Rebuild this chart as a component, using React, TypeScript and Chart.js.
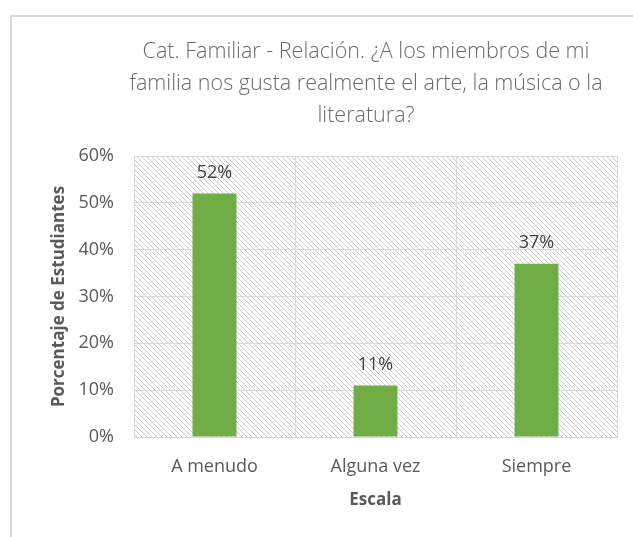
import React, { useEffect, useRef } from "react";
import { Chart, registerables } from "chart.js";

Chart.register(...registerables);

const titleLines = [
  "Cat. Familiar - Relación. ¿A los miembros de mi",
  "familia nos gusta realmente el arte, la música o la",
  "literatura?",
];
const categories = ["A menudo", "Alguna vez", "Siempre"];
const values = [52, 11, 37];
const yTicks = [0, 10, 20, 30, 40, 50, 60];
const xTitle = "Escala";
const yTitle = "Porcentaje de Estudiantes";

const FONT = "'Open Sans', 'Noto Sans', sans-serif";

function makePattern(ctx: CanvasRenderingContext2D) {
  const n = 5;
  const c = document.createElement("canvas");
  c.width = n;
  c.height = n;
  const pc = c.getContext("2d")!;
  const img = pc.createImageData(n, n);
  for (let i = 0; i < n * n; i++) {
    img.data[i * 4] = 255;
    img.data[i * 4 + 1] = 255;
    img.data[i * 4 + 2] = 255;
    img.data[i * 4 + 3] = 255;
  }
  for (let i = 0; i < n; i++) {
    const idx = (i * n + i) * 4;
    img.data[idx] = 200;
    img.data[idx + 1] = 200;
    img.data[idx + 2] = 200;
  }
  pc.putImageData(img, 0, 0);
  return ctx.createPattern(c, "repeat");
}

export default function App() {
  const ref = useRef<HTMLCanvasElement | null>(null);

  useEffect(() => {
    const canvas = ref.current!;
    const hatch = {
      id: "hatch",
      beforeDraw(chart: any) {
        const { ctx, chartArea } = chart;
        const p = makePattern(ctx);
        ctx.save();
        ctx.fillStyle = p;
        ctx.fillRect(
          chartArea.left,
          chartArea.top,
          chartArea.right - chartArea.left,
          chartArea.bottom - chartArea.top
        );
        ctx.restore();
      },
    };
    const labels = {
      id: "barLabels",
      afterDatasetsDraw(chart: any) {
        const { ctx } = chart;
        const meta = chart.getDatasetMeta(0);
        ctx.save();
        ctx.font = `18px ${FONT}`;
        ctx.fillStyle = "#404040";
        ctx.textAlign = "center";
        ctx.textBaseline = "middle";
        meta.data.forEach((el: any, i: number) => {
          ctx.fillText(`${values[i]}%`, el.x, el.y - 21);
        });
        ctx.restore();
      },
    };

    const chart = new Chart(canvas, {
      type: "bar",
      data: {
        labels: categories,
        datasets: [
          {
            data: values,
            backgroundColor: "#70AD47",
            borderWidth: 0,
            categoryPercentage: 1,
            barPercentage: 0.273,
          },
        ],
      },
      options: {
        responsive: false,
        animation: false,
        devicePixelRatio: 1,
        layout: { padding: 0 },
        plugins: {
          legend: { display: false },
          tooltip: { enabled: false },
          title: {
            display: true,
            text: titleLines,
            color: "#6a6a6a",
            font: { family: FONT, size: 21.5, weight: "300" as any, lineHeight: 32 / 21.5 },
            padding: { top: 19, bottom: 24 },
          },
        },
        scales: {
          x: {
            grid: { color: "#d9d9d9", drawTicks: false, offset: true },
            border: { color: "#d9d9d9", width: 1 },
            ticks: { color: "#595959", font: { family: FONT, size: 18 }, padding: 19 },
            title: {
              display: true,
              text: xTitle,
              color: "#595959",
              font: { family: FONT, size: 17, weight: "bold", lineHeight: 1.2 },
              padding: { top: 0, bottom: 27 },
            },
            afterFit(scale: any) {
              scale.height = 100;
            },
          },
          y: {
            min: yTicks[0],
            max: yTicks[yTicks.length - 1],
            grid: { color: "#d9d9d9", drawTicks: false },
            border: { color: "#d9d9d9", width: 1 },
            ticks: {
              stepSize: yTicks[1] - yTicks[0],
              color: "#595959",
              font: { family: FONT, size: 18 },
              padding: 20,
              callback: (v: any) => `${v}%`,
            },
            title: {
              display: true,
              text: yTitle,
              color: "#595959",
              font: { family: FONT, size: 17, weight: "bold", lineHeight: 1.2 },
              padding: { top: 37, bottom: 0 },
            },
            afterFit(scale: any) {
              scale.width = 122;
            },
          },
          spacer: {
            type: "linear",
            position: "right",
            display: true,
            grid: { display: false, drawOnChartArea: false },
            border: { display: false },
            ticks: { display: false },
            afterFit(scale: any) {
              scale.width = 103;
            },
          },
        },
      },
      plugins: [hatch, labels],
    });
    return () => chart.destroy();
  }, []);

  return (
    <div
      style={{
        position: "absolute",
        left: 10,
        top: 15,
        width: 621,
        height: 520,
        overflow: "hidden",
        borderLeft: "2px solid #d9d9d9",
        borderTop: "2px solid #d9d9d9",
        background: "#fff",
      }}
    >
      <canvas ref={ref} width={708} height={520} style={{ display: "block" }} />
    </div>
  );
}
